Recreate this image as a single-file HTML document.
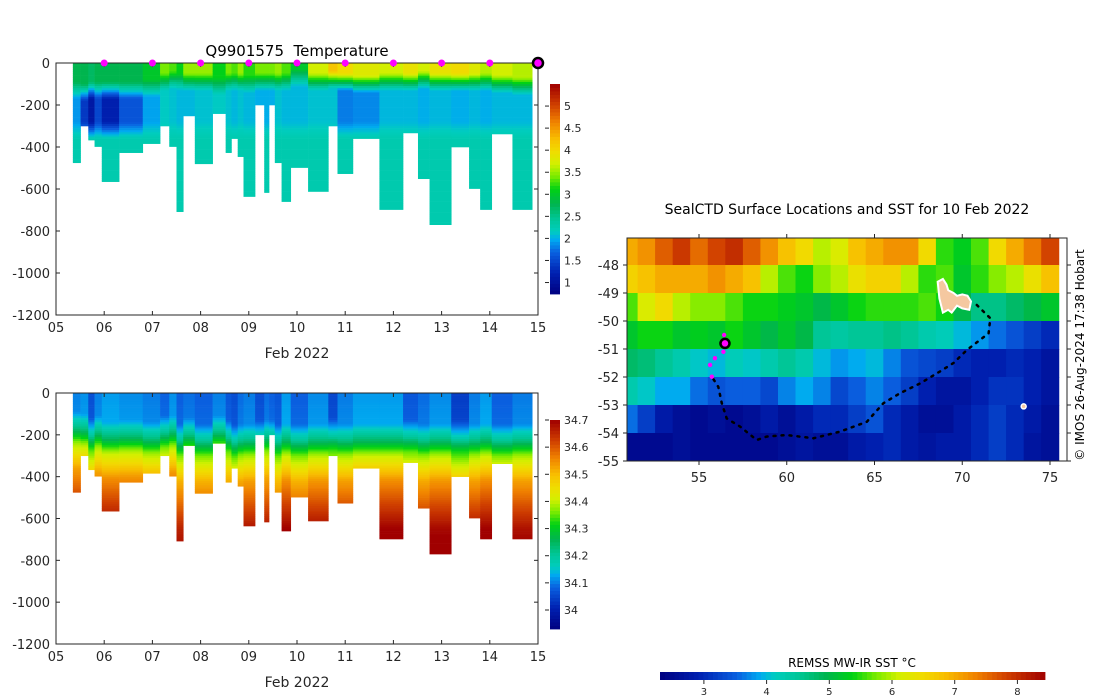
<!DOCTYPE html>
<html><head><meta charset="utf-8">
<style>
body{margin:0;background:#fff;}
svg{display:block;font-family:"DejaVu Sans","Liberation Sans",sans-serif;}
text{fill:#262626;}
</style></head>
<body>
<svg id="s" width="1100" height="700" viewBox="0 0 1100 700">
<text x="297" y="56" font-size="15" text-anchor="middle" xml:space="preserve" style="fill:#000;white-space:pre">Q9901575  Temperature</text>
<text x="297" y="358" font-size="14" text-anchor="middle">Feb 2022</text>
<text x="297" y="687" font-size="14" text-anchor="middle">Feb 2022</text>
<text x="847" y="214" font-size="14" text-anchor="middle" style="fill:#000">SealCTD Surface Locations and SST for 10 Feb 2022</text>
<text x="852" y="667" font-size="12" text-anchor="middle" style="fill:#000">REMSS MW-IR SST °C</text>
<text x="0" y="0" font-size="12" text-anchor="middle" transform="translate(1084,355) rotate(-90)" style="fill:#000">© IMOS 26-Aug-2024 17:38 Hobart</text>
<g id="g"></g>
</svg>
<script>
// ---- profile data ----
const colStart=[0.35,0.51,0.67,0.80,0.95,1.31,1.80,2.16,2.35,2.50,2.64,2.88,3.25,3.52,3.64,3.77,3.89,4.13,4.32,4.42,4.54,4.68,4.87,5.23,5.65,5.84,6.16,6.71,7.20,7.51,7.75,8.20,8.57,8.80,9.04,9.47];
const colEnd=[0.51,0.67,0.80,0.95,1.31,1.80,2.16,2.35,2.50,2.64,2.88,3.25,3.52,3.64,3.77,3.89,4.13,4.32,4.42,4.54,4.68,4.87,5.23,5.65,5.84,6.16,6.71,7.20,7.51,7.75,8.20,8.57,8.80,9.04,9.47,9.88];
const maxDepth=[475,300,367,398,565,427,384,300,398,708,252,480,241,427,360,446,636,200,617,200,475,660,498,612,300,527,360,698,333,551,770,400,598,698,338,698];
const surfT=[2.8,2.8,2.7,2.8,2.8,2.8,3.0,3.4,3.3,3.1,3.5,3.5,3.1,3.4,3.3,3.5,3.2,3.4,3.4,3.4,3.5,3.3,3.0,3.7,4.2,4.0,3.8,3.7,3.9,3.7,3.9,4.0,3.8,3.6,3.7,3.6];
const mld=[90,100,90,90,90,90,80,50,40,50,50,50,70,50,50,50,60,50,50,50,50,50,30,50,40,50,60,50,50,40,50,50,50,50,60,70];
const minT=[1.9,1.4,1.1,1.5,1.2,1.6,1.95,2.15,2.1,2.05,2.05,2.1,2.15,2.1,2.05,2.1,2.05,2.0,2.0,2.0,2.1,2.05,2.05,2.1,2.1,1.8,1.85,2.05,2.05,2.0,2.05,2.0,2.05,2.0,2.05,2.05];
const deepT=2.28;
const surfS=[34.08,34.09,34.04,34.08,34.1,34.09,34.08,34.06,34.09,34.06,34.07,34.06,34.08,34.05,34.04,34.07,34.08,34.04,34.07,34.06,34.05,34.1,34.06,34.09,34.03,34.08,34.1,34.1,34.05,34.07,34.09,34.02,34.08,34.1,34.06,34.08];
const salShift=[-60,-50,-30,-40,-10,-20,-10,-40,-40,0,-30,0,-40,-20,0,0,0,-20,-20,-20,0,0,0,0,-30,0,0,0,-20,0,0,-20,0,0,0,0];
const refZ=[0,150,230,300,420,650,900];
const refS=[0.02,0.03,0.15,0.3,0.45,0.6,0.67];
const dayTicks=['05','06','07','08','09','10','11','12','13','14','15'];
const depthTicks=[0,-200,-400,-600,-800,-1000,-1200];
const tTicks=[1,1.5,2,2.5,3,3.5,4,4.5,5];
const sTicks=[34,34.1,34.2,34.3,34.4,34.5,34.6,34.7];
const markerDays=[1,2,3,4,5,6,7,8,9];
// ---- map data ----
const sstLon=[51,52,53,54,55,56,57,58,59,60,61,62,63,64,65,66,67,68,69,70,71,72,73,74,75];
const sstLat=[-47,-48,-49,-50,-51,-52,-53,-54];
const sst=[
[7.0,7.2,7.6,7.9,7.5,7.8,8.0,7.6,7.2,6.8,6.5,6.0,6.2,6.8,7.0,7.2,7.2,6.5,5.5,5.3,5.6,6.5,7.0,7.4,7.8],
[6.6,6.8,7.0,7.0,7.0,7.2,7.0,6.8,6.0,5.6,5.4,5.8,6.0,6.4,6.6,6.6,6.0,5.5,5.6,5.2,5.5,5.8,6.0,6.4,6.8],
[5.6,6.2,6.5,6.0,5.8,5.8,5.6,5.4,5.4,5.3,5.2,5.0,5.2,5.4,5.5,5.5,5.5,5.6,5.4,5.0,4.6,4.6,4.8,5.0,5.2],
[5.2,5.4,5.4,5.2,5.3,5.2,5.4,5.2,5.0,5.2,5.0,4.5,4.4,4.5,4.5,4.6,4.5,4.3,4.2,4.0,3.8,3.6,3.4,3.2,3.0],
[4.8,4.7,4.5,4.3,4.1,4.0,4.2,4.1,4.3,4.5,4.3,4.0,3.8,3.9,4.0,3.7,3.4,3.3,3.2,3.0,2.9,2.9,3.0,2.9,2.7],
[4.3,4.1,3.9,3.9,3.6,3.4,3.5,3.5,3.3,3.7,3.9,3.7,3.3,3.5,3.7,3.5,3.2,2.9,2.7,2.7,2.9,3.1,3.1,2.9,2.7],
[3.6,3.2,2.8,2.6,2.5,2.6,2.5,2.6,2.8,2.6,2.8,3.0,3.0,3.2,3.4,3.0,2.8,2.6,2.6,2.8,3.0,3.2,3.0,2.8,2.6],
[2.5,2.5,2.5,2.6,2.5,2.5,2.5,2.5,2.5,2.6,2.7,2.6,2.6,2.8,2.9,3.0,2.8,2.7,2.8,2.8,3.0,3.2,3.0,2.7,2.6]];
const trackLon=[70.83,71.6,71.5,70.26,69.5,68.74,67.6,66.46,65.5,64.56,63.04,61.52,60.0,58.86,58.29,57.34,56.58,56.3,56.1,55.73];
const trackLat=[-49.43,-49.9,-50.44,-51.04,-51.5,-51.8,-52.23,-52.58,-52.94,-53.6,-53.95,-54.19,-54.07,-54.13,-54.25,-53.77,-53.48,-52.94,-52.35,-51.99];
const recentLon=[55.73,55.63,55.91,56.39,56.43];
const recentLat=[-51.99,-51.57,-51.33,-51.1,-50.5];
const lastLon=56.48, lastLat=-50.8;
const lonTicks=[55,60,65,70,75];
const latTicks=[-48,-49,-50,-51,-52,-53,-54,-55];
const sstTicks=[3,4,5,6,7,8];
const kergLon=[68.6,68.9,69.1,69.2,69.5,69.7,70.0,70.3,70.5,70.4,70.0,69.7,69.4,69.2,68.9,68.7];
const kergLat=[-48.6,-48.5,-48.7,-48.9,-49.0,-49.1,-49.05,-49.1,-49.3,-49.6,-49.55,-49.45,-49.7,-49.6,-49.7,-49.2];

const NS='http://www.w3.org/2000/svg';
const G=document.getElementById('g');
function mk(tag,attrs,parent){const e=document.createElementNS(NS,tag);for(const k in attrs)e.setAttribute(k,attrs[k]);(parent||G).appendChild(e);return e;}
const stops=[[0,[0,0,128]],[0.1,[0,32,176]],[0.2,[10,96,224]],[0.26,[0,170,240]],[0.3,[0,205,190]],[0.36,[0,198,150]],[0.43,[0,180,80]],[0.5,[0,210,20]],[0.56,[120,235,0]],[0.62,[210,240,0]],[0.68,[240,220,0]],[0.74,[248,190,0]],[0.82,[240,130,0]],[0.9,[208,64,0]],[1,[160,0,0]]];
function cmap(f){f=Math.max(0,Math.min(1,f));for(let i=1;i<stops.length;i++){if(f<=stops[i][0]){const a=stops[i-1],b=stops[i];const t=(f-a[0])/(b[0]-a[0]);const c=a[1].map((v,j)=>Math.round(v+(b[1][j]-v)*t));return 'rgb('+c.join(',')+')';}}return 'rgb(160,0,0)';}
function lerp(xs,ys,x){if(x<=xs[0])return ys[0];for(let i=1;i<xs.length;i++){if(x<=xs[i])return ys[i-1]+(ys[i]-ys[i-1])*(x-xs[i-1])/(xs[i]-xs[i-1]);}return ys[ys.length-1];}

const X0=56,X1=538;
const xDay=d=>X0+(X1-X0)*d/10;
function tempAt(i,z){const m=mld[i];if(z<m)return surfT[i];if(z<m+80)return surfT[i]+(minT[i]-surfT[i])*(z-m)/80;if(z<280)return minT[i];if(z<360)return minT[i]+(deepT-minT[i])*(z-280)/80;return deepT;}
function salAt(i,z){return surfS[i]+lerp(refZ,refS,z-salShift[i]);}

function section(top,bot,name,valFn,vmin,vmax,cbTop,cbBot,ticks,fmt){
  const yD=d=>top+(bot-top)*d/1200;
  const grp=mk('g',{});
  
  
  for(let i=0;i<colStart.length;i++){
    const x=xDay(colStart[i]),w=xDay(colEnd[i])-x;
    for(let z=0;z<maxDepth[i];z+=10){
      const h=Math.min(10,maxDepth[i]-z);
      const r=mk('rect',{x:x.toFixed(2),y:yD(z).toFixed(2),width:(w+0.3).toFixed(2),height:(yD(z+h)-yD(z)+0.3).toFixed(2),fill:cmap((valFn(i,z+5)-vmin)/(vmax-vmin))},grp);
      
      
    }
  }
  const ax=mk('rect',{x:X0,y:top,width:X1-X0,height:bot-top,fill:'none',stroke:'#262626','stroke-width':1});
  
  
  dayTicks.forEach((t,k)=>{const x=xDay(k);
    mk('line',{x1:x,x2:x,y1:bot,y2:bot-4,stroke:'#262626'});mk('line',{x1:x,x2:x,y1:top,y2:top+4,stroke:'#262626'});
    const tx=mk('text',{x:x,y:bot+17,'font-size':13,'text-anchor':'middle'});tx.textContent=t;
    
    });
  depthTicks.forEach(d=>{const y=yD(-d);
    mk('line',{x1:X0,x2:X0+4,y1:y,y2:y,stroke:'#262626'});mk('line',{x1:X1,x2:X1-4,y1:y,y2:y,stroke:'#262626'});
    const tx=mk('text',{x:X0-6,y:y+5,'font-size':13,'text-anchor':'end'});tx.textContent=d;
    
    });
  const cb=mk('g',{});
  
  
  const n=60;for(let k=0;k<n;k++){const y=cbBot-(cbBot-cbTop)*(k+1)/n;mk('rect',{x:550,y:y.toFixed(2),width:10,height:((cbBot-cbTop)/n+0.4).toFixed(2),fill:cmap((k+0.5)/n)},cb);}
  const cy=v=>cbBot-(cbBot-cbTop)*(v-vmin)/(vmax-vmin);
  ticks.forEach(v=>{const y=cy(v);mk('line',{x1:545,x2:549,y1:y,y2:y,stroke:'#262626'},cb);
    const tx=mk('text',{x:564,y:y+4,'font-size':11},cb);tx.textContent=fmt(v);
    
    });
}
section(63,315,'temperature',tempAt,0.74,5.5,84,294,tTicks,v=>String(v));
section(393,644,'salinity',salAt,33.93,34.70,420,629,sTicks,v=>String(+v.toFixed(1)));
markerDays.forEach(d=>{const c=mk('circle',{cx:xDay(d),cy:63,r:3.5,fill:'#ff00ff'});
  
  });
const lastM=mk('circle',{cx:xDay(10),cy:63,r:5,fill:'#ff00ff',stroke:'#000','stroke-width':2.5});



// ---- map ----
const MX0=627,MX1=1067,MY0=238,MY1=461;
const xLon=l=>699+(l-55)*17.55;
const yLat=a=>265+(-48-a)*28;
const mg=mk('g',{});


const cp=mk('clipPath',{id:'mc'},mg);
mk('rect',{x:MX0,y:MY0,width:MX1-MX0,height:MY1-MY0},cp);
const cells=mk('g',{'clip-path':'url(#mc)'},mg);
for(let r=0;r<sstLat.length;r++)for(let c=0;c<sstLon.length;c++){
  const x=xLon(sstLon[c]-0.5),y=yLat(sstLat[r]);
  const e=mk('rect',{x:x.toFixed(1),y:y.toFixed(1),width:(17.55+0.5).toFixed(2),height:28.5,fill:cmap((sst[r][c]-2.30)/(8.44-2.30))},cells);
  
  
}
const isl=mk('polygon',{points:kergLon.map((l,i)=>xLon(l).toFixed(1)+','+yLat(kergLat[i]).toFixed(1)).join(' '),fill:'#f5c8a0',stroke:'#fff','stroke-width':2},cells);


const hi=mk('circle',{cx:xLon(73.5),cy:yLat(-53.05),r:2.5,fill:'#f5c8a0',stroke:'#fff','stroke-width':1.5},cells);


const tr=mk('polyline',{points:trackLon.map((l,i)=>xLon(l).toFixed(1)+','+yLat(trackLat[i]).toFixed(1)).join(' '),fill:'none',stroke:'#000','stroke-width':2.5,'stroke-dasharray':'2 6','stroke-linecap':'round'},mg);


recentLon.forEach((l,i)=>{const c=mk('circle',{cx:xLon(l),cy:yLat(recentLat[i]),r:2.2,fill:'#ff00ff'},mg);
  
  });
const lm=mk('circle',{cx:xLon(lastLon),cy:yLat(lastLat),r:4.5,fill:'#ff00ff',stroke:'#000','stroke-width':2.5},mg);


const mb=mk('rect',{x:MX0,y:MY0,width:MX1-MX0,height:MY1-MY0,fill:'none',stroke:'#262626'},mg);


lonTicks.forEach(l=>{const x=xLon(l);mk('line',{x1:x,x2:x,y1:MY1,y2:MY1+4,stroke:'#262626'});mk('line',{x1:x,x2:x,y1:MY0,y2:MY0-4,stroke:'#262626'});
  const t=mk('text',{x:x,y:MY1+21,'font-size':13,'text-anchor':'middle'});t.textContent=l;
  
  });
latTicks.forEach(a=>{const y=yLat(a);mk('line',{x1:MX0,x2:MX0-4,y1:y,y2:y,stroke:'#262626'});mk('line',{x1:MX1,x2:MX1+4,y1:y,y2:y,stroke:'#262626'});
  const t=mk('text',{x:MX0-8,y:y+5,'font-size':13,'text-anchor':'end'});t.textContent=a;
  
  });
const CB0=660,CB1=1045,vmn=2.30,vmx=8.44;
const scb=mk('g',{});


for(let k=0;k<80;k++){const x=CB0+(CB1-CB0)*k/80;mk('rect',{x:x.toFixed(2),y:672,width:((CB1-CB0)/80+0.4).toFixed(2),height:8,fill:cmap((k+0.5)/80)},scb);}
const sx=v=>CB0+(CB1-CB0)*(v-vmn)/(vmx-vmn);
sstTicks.forEach(v=>{const x=sx(v);mk('line',{x1:x,x2:x,y1:680,y2:684,stroke:'#262626'},scb);
  const t=mk('text',{x:x,y:695,'font-size':10,'text-anchor':'middle'},scb);t.textContent=v;
  
  });
</script>
</body></html>
